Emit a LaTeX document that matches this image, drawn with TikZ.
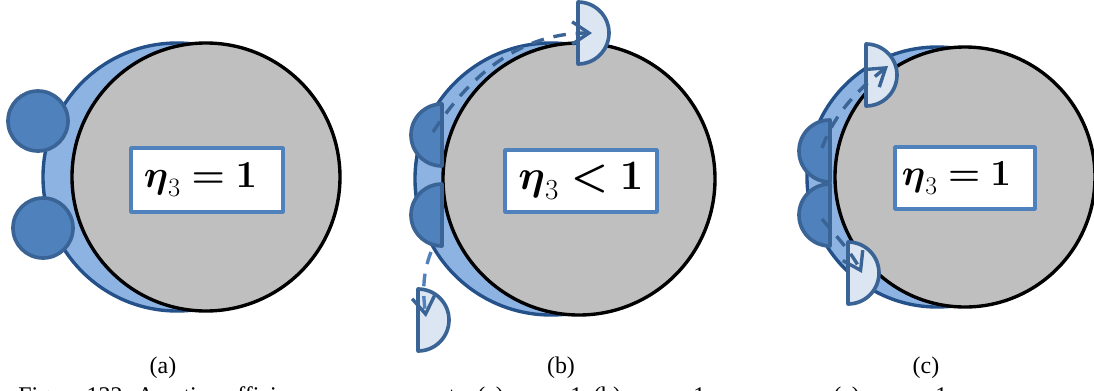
\documentclass[tikz,border=0pt]{standalone}
\usepackage{amsmath,amssymb}
\usepackage{fontspec}
\setmainfont{Liberation Serif}
\usepackage{tikz}
\usetikzlibrary{arrows.meta}

\definecolor{shellblue}{HTML}{8DB3E2}
\definecolor{shelledge}{HTML}{24518A}
\definecolor{dropblue}{HTML}{4F81BD}
\definecolor{dropedge}{HTML}{3A6496}
\definecolor{catchblue}{HTML}{DCE6F2}
\definecolor{coregray}{HTML}{BFBFBF}

\begin{document}
\begin{tikzpicture}[
  x=0.025cm,y=-0.025cm,
  shell/.style={fill=shellblue,draw=shelledge,line width=2.4pt},
  core/.style={fill=coregray,draw=black,line width=2.4pt},
  drop/.style={fill=dropblue,draw=dropedge,line width=2.6pt,line join=round},
  catcher/.style={fill=catchblue,draw=dropedge,line width=2.6pt,line join=round},
  etabox/.style={fill=white,draw=dropblue,line width=2.8pt,rounded corners=0.5pt,inner sep=0pt,font=\fontsize{24}{28}\selectfont},
  trail/.style={draw=dropedge,line width=2.4pt,dash pattern=on 9pt off 7pt,
    -{Straight Barb[length=12pt,width=16pt,line width=2.4pt,color=dropedge]}},
  sublabel/.style={font=\fontsize{17}{19}\selectfont,text=black}
]
  \clip (0,0) rectangle (1094,390);

  % sphere and shell of each case
  \foreach \bx/\gx/\cy/\r in {177/206/177/134,551/579/179/136,937/965/177/130}{
    \draw[shell] (\bx,\cy) circle[radius=\r];
    \draw[core] (\gx,\cy) circle[radius=\r];
  }

  % case a
  \foreach \x/\y in {38/121,43/228}{
    \draw[drop] (\x,\y) circle[radius=30];
  }
  % cases b and c, sources
  \foreach \x/\y in {442/135,442/215,830/151,830/215}{
    \draw[drop] (\x,\y-31) arc[start angle=-90,end angle=-270,radius=31] -- cycle;
  }
  % cases b and c, catchers
  \foreach \x/\y in {578/33,418/320,866/75,848/273}{
    \draw[catcher] (\x,\y-31) arc[start angle=-90,end angle=90,radius=31] -- cycle;
  }

  \coordinate (srcBa) at (433,132);
  \coordinate (catBa) at (592,33);
  \coordinate (srcBb) at (431,252);
  \coordinate (catBb) at (426,317);
  \coordinate (srcCa) at (822,148);
  \coordinate (catCa) at (888,66);
  \coordinate (srcCb) at (822,219);
  \coordinate (catCb) at (862,273);

  \draw[trail] (srcBa) .. controls (470,75) and (520,33) .. (catBa);
  \draw[trail,draw=dropblue] (srcBb) .. controls (422,275) and (423,295) .. (catBb);
  \draw[trail] (srcCa) .. controls (835,112) and (860,88) .. (catCa);
  \draw[trail] (srcCb) .. controls (835,235) and (850,250) .. (catCb);

  \node[etabox,minimum width=3.8cm,minimum height=1.6cm] (boxA) at (207,180) {\scalebox{1.09}{$\boldsymbol{\eta}_3 \boldsymbol{=} \boldsymbol{1}$}\kern0.325cm};
  \node[etabox,minimum width=3.8cm,minimum height=1.55cm] (boxB) at (581,181) {\scalebox{1.196}{$\boldsymbol{\eta}_3 \boldsymbol{<} \boldsymbol{1}$}};
  \node[etabox,minimum width=3.5cm,minimum height=1.55cm] (boxC) at (965,178) {\scalebox{1.05}{$\boldsymbol{\eta}_3 \boldsymbol{=} \boldsymbol{1}$}\kern0.425cm};

  \node[sublabel] (capA) at (163,368) {(a)};
  \node[sublabel] (capB) at (561,368) {(b)};
  \node[sublabel] (capC) at (926,368) {(c)};

  % caption line, cut off by the picture edge
  \foreach \x/\txt in {18/Figure 132: Aeration efficiency measurement,477/(a),570/1,593/(b),693/1,833/(c),935/1}{
    \node[sublabel,anchor=base west,inner sep=0pt] at (\x,403) {\txt};
  }
\end{tikzpicture}
\end{document}
